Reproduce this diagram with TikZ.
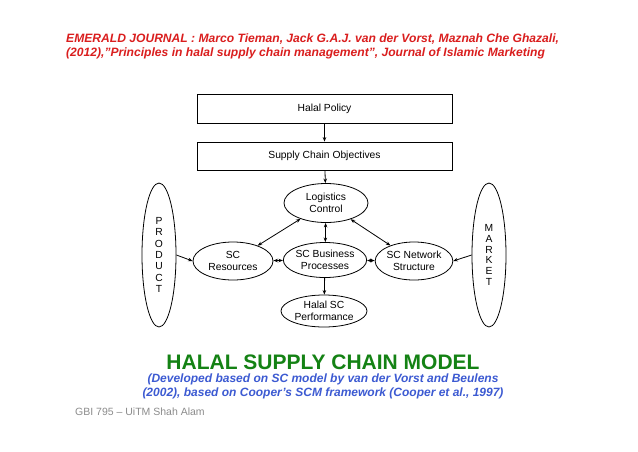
\documentclass[tikz,border=0pt]{standalone}
\usepackage{fontspec}
\setmainfont{Liberation Sans}
\usetikzlibrary{shapes.geometric,arrows.meta}
\definecolor{titlered}{RGB}{218,30,30}
\definecolor{modelgreen}{RGB}{20,130,20}
\definecolor{subblue}{RGB}{60,90,210}
\definecolor{footgrey}{RGB}{140,140,140}
\tikzset{
  boxnode/.style={draw, line width=0.8pt, minimum width=255pt, minimum height=29pt, inner sep=0pt, font=\fontsize{10.3}{12}\selectfont},
  ell/.style={draw, ellipse, line width=0.8pt, inner sep=0pt, align=center, font=\fontsize{10.3}{12.3}\selectfont},
  conn/.style={line width=0.8pt, -{Stealth[length=4.5pt,width=3.5pt]}},
  dconn/.style={line width=0.8pt, {Stealth[length=4.5pt,width=3.5pt]}-{Stealth[length=4.5pt,width=3.5pt]}},
  hdr/.style={anchor=west, text=titlered, font=\fontsize{12.1}{14}\selectfont\bfseries\itshape, inner sep=0pt}
}
\begin{document}
\begin{tikzpicture}[x=1pt,y=-1pt]
\useasboundingbox (0,0) rectangle (638,451);
\fill[white] (0,0) rectangle (638,451);
% header
\node[hdr] (t1) at (66,39) {EMERALD JOURNAL : Marco Tieman, Jack G.A.J. van der Vorst, Maznah Che Ghazali,};
\node[hdr] (t2) at (66,53) {(2012),"Principles in halal supply chain management", Journal of Islamic Marketing};
% boxes
\node[boxnode] (pol) at (324.5,108.5) {Halal Policy};
\node[boxnode, minimum height=28pt] (obj) at (324.5,156) {Supply Chain Objectives};
% ellipses
\node[ell, minimum width=84pt, minimum height=39pt] (lc) at (326,203) {Logistics\\Control};
\node[ell, minimum width=80pt, minimum height=38pt] (res) at (233,261) {SC\\Resources};
\node[ell, minimum width=79pt, minimum height=35pt] (bp) at (325,260) {SC Business\\Processes};
\node[ell, minimum width=75pt, minimum height=38pt] (net) at (414,261) {SC Network\\Structure};
\node[ell, minimum width=86pt, minimum height=32pt] (perf) at (324,311) {Halal SC\\Performance};
\node[ell, minimum width=34pt, minimum height=144pt, font=\fontsize{10.3}{11.3}\selectfont] (prod) at (159,255) {P\\R\\O\\D\\U\\C\\T};
\node[ell, minimum width=34pt, minimum height=144pt, font=\fontsize{10.3}{10.9}\selectfont] (mkt) at (489,255) {M\\A\\R\\K\\E\\T};
% connectors
\draw[conn] (pol) -- (obj);
\draw[conn] (obj) -- (lc);
\draw[dconn] (lc) -- (res);
\draw[dconn] (lc) -- (net);
\draw[dconn] (lc) -- (bp);
\draw[dconn] (res) -- (bp);
\draw[dconn] (bp) -- (net);
\draw[conn] (bp) -- (perf);
\draw[conn] (prod.east) -- (res.west);
\draw[conn] (mkt.west) -- (net.east);
% footer
\node[text=modelgreen, font=\fontsize{21}{24}\selectfont\bfseries, inner sep=0pt] (ttl) at (323,362) {HALAL SUPPLY CHAIN MODEL};
\node[text=subblue, font=\fontsize{12}{14}\selectfont\bfseries\itshape, align=center, inner sep=0pt] (sub) at (323,386) {(Developed based on SC model by van der Vorst and Beulens\\(2002), based on Cooper’s SCM framework (Cooper et al., 1997)};
\node[anchor=west, text=footgrey, font=\fontsize{10.5}{12}\selectfont, inner sep=0pt] (foot) at (75,412) {GBI 795 – UiTM Shah Alam};
\end{tikzpicture}
\end{document}
